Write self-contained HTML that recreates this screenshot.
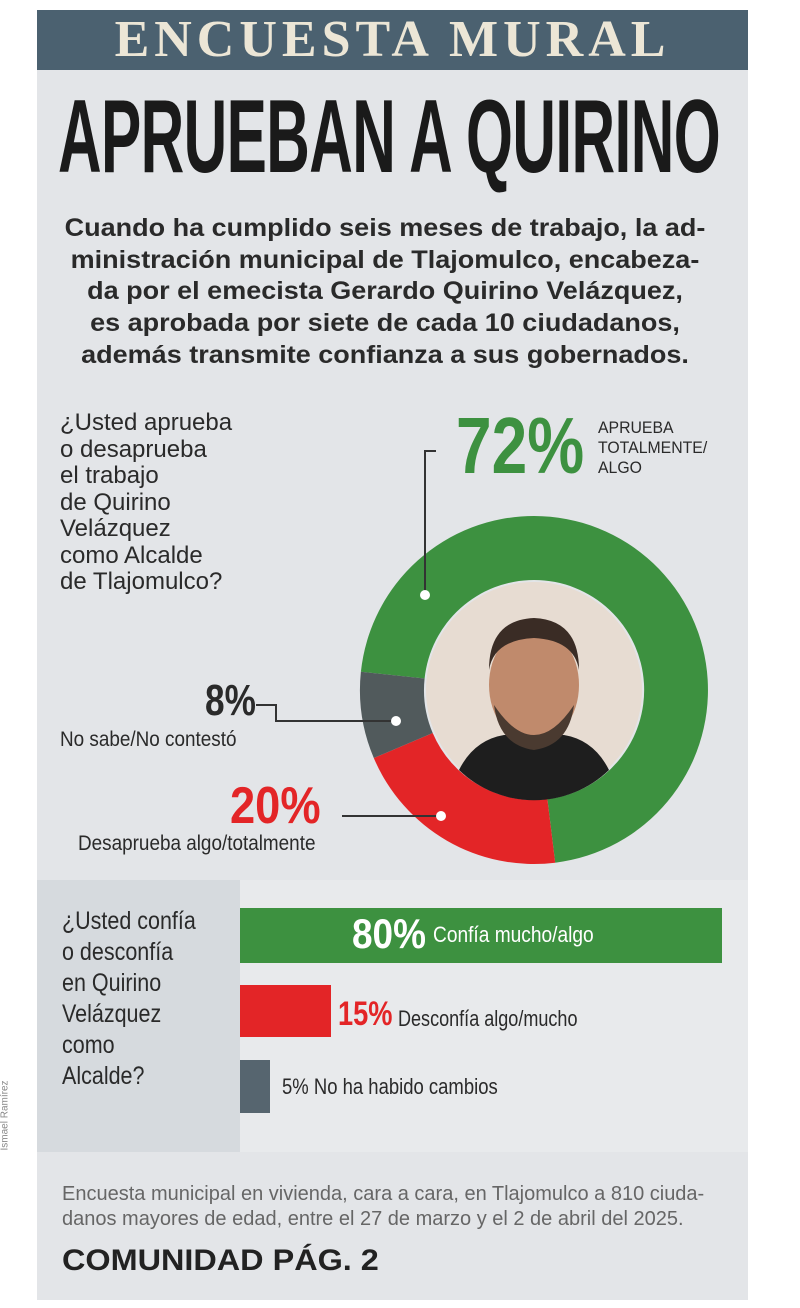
<!DOCTYPE html>
<html><head><meta charset="utf-8"><style>
html,body{margin:0;padding:0;background:#fff;}
body{width:800px;height:1308px;position:relative;overflow:hidden;font-family:"Liberation Sans",sans-serif;}
.a{position:absolute;white-space:nowrap;}
.p{position:absolute;left:0;width:770px;text-align:center;font-size:25px;color:#2a2a2a;font-weight:bold;transform:scaleX(1.08);transform-origin:385px 0;white-space:nowrap;}
</style></head><body>
<div class="a" style="left:37px;top:10px;width:711px;height:1290px;background:#e3e5e8;"></div>
<div class="a" style="left:37px;top:10px;width:711px;height:60px;background:#4b6170;"></div>
<div class="a" style="left:37px;top:10px;width:711px;text-align:center;font-family:'Liberation Serif',serif;font-weight:bold;font-size:52px;letter-spacing:5px;color:#ece6d6;">ENCUESTA MURAL</div>
<div class="a" style="left:58px;top:82px;font-weight:bold;font-size:104px;line-height:110px;color:#1a1a1a;letter-spacing:-1px;transform:scaleX(0.58);transform-origin:left top;">APRUEBAN A QUIRINO</div>
<div class="p" style="top:214px;">Cuando ha cumplido seis meses de trabajo, la ad-</div>
<div class="p" style="top:246px;">ministración municipal de Tlajomulco, encabeza-</div>
<div class="p" style="top:277px;">da por el emecista Gerardo Quirino Velázquez,</div>
<div class="p" style="top:309px;">es aprobada por siete de cada 10 ciudadanos,</div>
<div class="p" style="top:341px;">además transmite confianza a sus gobernados.</div>
<div class="a" style="left:60px;top:410px;font-size:24px;line-height:26.5px;color:#2a2a2a;transform:scaleX(1.0);transform-origin:left top;">¿Usted aprueba<br>o desaprueba<br>el trabajo<br>de Quirino<br>Velázquez<br>como Alcalde<br>de Tlajomulco?</div>
<svg class="a" style="left:0;top:0" width="800" height="1308">
<g transform="translate(534,690)">
<path d="M0,-174 A174,174 0 0 1 21.2,172.7 L13.4,109.2 A110,110 0 0 0 0,-110Z" fill="#3d9140"/>
<path d="M-173.1,-18.2 A174,174 0 0 1 0,-174 L0,-110 A110,110 0 0 0 -109.4,-11.5Z" fill="#3d9140"/>
<path d="M21.2,172.7 A174,174 0 0 1 -160.2,68 L-101.3,43 A110,110 0 0 0 13.4,109.2Z" fill="#e32527"/>
<path d="M-160.2,68 A174,174 0 0 1 -173.1,-18.2 L-109.4,-11.5 A110,110 0 0 0 -101.3,43Z" fill="#515a5c"/>
<circle r="108" fill="#e7dcd2"/>
<path d="M-75,80 Q-60,50 -30,45 L30,45 Q60,50 75,80 A108,108 0 0 1 -75,80Z" fill="#1e1e1e"/>
<ellipse cx="0" cy="-5" rx="45" ry="58" fill="#c08a6c"/>
<path d="M-45,-20 Q-45,-70 0,-72 Q45,-70 45,-20 Q40,-50 0,-52 Q-40,-50 -45,-20Z" fill="#3a2c25"/>
<path d="M-40,15 Q0,75 40,15 Q35,55 0,60 Q-35,55 -40,15Z" fill="#4a3a30"/>
</g>
<polyline points="425,595 425,451 436,451" fill="none" stroke="#333" stroke-width="2"/>
<circle cx="425" cy="595" r="5" fill="#fff"/>
<polyline points="256,705 276,705 276,721 395,721" fill="none" stroke="#333" stroke-width="2"/>
<circle cx="396" cy="721" r="5" fill="#fff"/>
<line x1="342" y1="816" x2="440" y2="816" stroke="#333" stroke-width="2"/>
<circle cx="441" cy="816" r="5" fill="#fff"/>
</svg>
<div class="a" style="left:456px;top:400px;font-weight:bold;font-size:80px;color:#3d9140;transform:scaleX(0.8);transform-origin:left top;">72%</div>
<div class="a" style="left:598px;top:418px;font-size:17px;line-height:20px;color:#2a2a2a;transform:scaleX(0.93);transform-origin:left top;">APRUEBA<br>TOTALMENTE/<br>ALGO</div>
<div class="a" style="left:205px;top:676px;font-weight:bold;font-size:44px;color:#2a2a2a;transform:scaleX(0.8);transform-origin:left top;">8%</div>
<div class="a" style="left:60px;top:728px;font-size:21px;color:#2a2a2a;transform:scaleX(0.9);transform-origin:left top;">No sabe/No contestó</div>
<div class="a" style="left:230px;top:776px;font-weight:bold;font-size:52px;color:#e32527;transform:scaleX(0.87);transform-origin:left top;">20%</div>
<div class="a" style="left:78px;top:832px;font-size:21px;color:#2a2a2a;transform:scaleX(0.9);transform-origin:left top;">Desaprueba algo/totalmente</div>
<div class="a" style="left:37px;top:880px;width:711px;height:272px;background:#d6dade;"></div>
<div class="a" style="left:240px;top:880px;width:508px;height:272px;background:#e8eaec;"></div>
<div class="a" style="left:62px;top:906px;font-size:25px;line-height:31px;color:#2a2a2a;transform:scaleX(0.86);transform-origin:left top;">¿Usted confía<br>o desconfía<br>en Quirino<br>Velázquez<br>como<br>Alcalde?</div>
<div class="a" style="left:240px;top:908px;width:482px;height:55px;background:#3d9140;"></div>
<div class="a" style="left:352px;top:910px;font-weight:bold;font-size:42px;color:#fff;transform:scaleX(0.88);transform-origin:left top;">80%</div>
<div class="a" style="left:433px;top:922px;font-size:22px;color:#fff;transform:scaleX(0.87);transform-origin:left top;">Confía mucho/algo</div>
<div class="a" style="left:240px;top:985px;width:91px;height:52px;background:#e32527;"></div>
<div class="a" style="left:338px;top:995px;font-weight:bold;font-size:34px;color:#e32527;transform:scaleX(0.8);transform-origin:left top;">15%</div>
<div class="a" style="left:398px;top:1006px;font-size:22px;color:#2a2a2a;transform:scaleX(0.82);transform-origin:left top;">Desconfía algo/mucho</div>
<div class="a" style="left:240px;top:1060px;width:30px;height:53px;background:#56656f;"></div>
<div class="a" style="left:282px;top:1074px;font-size:22px;color:#2a2a2a;transform:scaleX(0.84);transform-origin:left top;">5% No ha habido cambios</div>
<div class="a" style="left:62px;top:1182px;font-size:20px;line-height:25px;color:#666;transform:scaleX(1.0);transform-origin:left top;">Encuesta municipal en vivienda, cara a cara, en Tlajomulco a 810 ciuda-<br>danos mayores de edad, entre el 27 de marzo y el 2 de abril del 2025.</div>
<div class="a" style="left:62px;top:1244px;font-weight:bold;font-size:30px;color:#222;transform:scaleX(1.08);transform-origin:left top;">COMUNIDAD PÁG. 2</div>
<div class="a" style="left:-30px;top:1110px;font-size:10px;color:#888;transform:rotate(-90deg);">Ismael Ramírez</div>
</body></html>
